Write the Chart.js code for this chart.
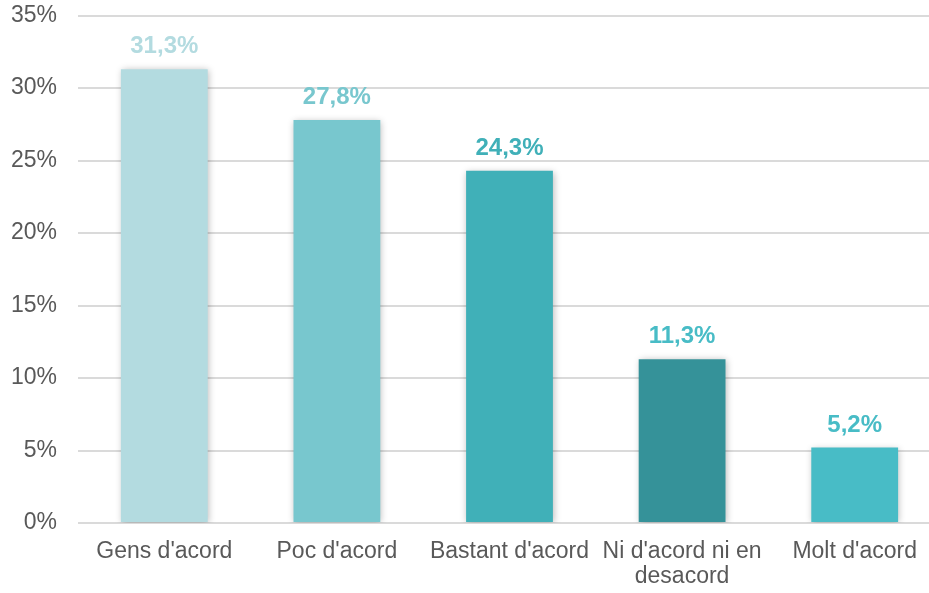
<!DOCTYPE html>
<html>
<head>
<meta charset="utf-8">
<script src="https://cdn.jsdelivr.net/npm/chart.js@4"></script>
<style>
html,body{margin:0;padding:0;background:#fff;overflow:hidden;}
#wrap{width:929px;height:593px;overflow:hidden;position:relative;}
#box{width:942px;height:593px;position:absolute;left:0;top:0;}
</style>
</head>
<body>
<div id="wrap"><div id="box"><canvas id="c"></canvas></div></div>
<script>
const categories = ["Gens d'acord", "Poc d'acord", "Bastant d'acord", ["Ni d'acord ni en", "desacord"], "Molt d'acord"];
const values = [31.3, 27.8, 24.3, 11.3, 5.2];
const valueLabels = ["31,3%", "27,8%", "24,3%", "11,3%", "5,2%"];
const barColors = ["#B3DBE0", "#78C7CE", "#40B0B8", "#359299", "#48BCC6"];
const labelColors = ["#B3DBE0", "#78C7CE", "#40B0B8", "#48BCC6", "#48BCC6"];
const yTicks = [0, 5, 10, 15, 20, 25, 30, 35];

const FONT = "'Liberation Sans', Arial, sans-serif";

const shadowPlugin = {
  id: 'shadow',
  beforeDatasetsDraw(chart) {
    const ctx = chart.ctx;
    ctx.save();
    ctx.shadowColor = 'rgba(0,0,0,0.28)';
    ctx.shadowBlur = 7;
    ctx.shadowOffsetX = 1;
    ctx.shadowOffsetY = 1;
  },
  afterDatasetsDraw(chart) {
    const ctx = chart.ctx;
    ctx.restore();
    const meta = chart.getDatasetMeta(0);
    ctx.save();
    ctx.font = "bold 24px " + FONT;
    ctx.textAlign = 'center';
    ctx.textBaseline = 'alphabetic';
    meta.data.forEach((bar, i) => {
      ctx.fillStyle = labelColors[i];
      ctx.fillText(valueLabels[i], bar.x, bar.y - 16);
    });
    ctx.restore();
  }
};

new Chart(document.getElementById('c'), {
  type: 'bar',
  data: {
    labels: categories,
    datasets: [{
      data: values,
      backgroundColor: barColors,
      borderWidth: 0,
      categoryPercentage: 1,
      barPercentage: 0.503
    }]
  },
  options: {
    responsive: true,
    maintainAspectRatio: false,
    animation: false,
    devicePixelRatio: 1,
    layout: { padding: { top: 15.5, right: 1, left: 0, bottom: 0 } },
    plugins: { legend: { display: false }, tooltip: { enabled: false } },
    scales: {
      x: {
        grid: { display: false, drawTicks: false },
        border: { display: false },
        ticks: {
          color: '#595959',
          font: { family: FONT, size: 23, lineHeight: 1.1 },
          padding: 16,
          maxRotation: 0,
          autoSkip: false
        },
        afterFit(s) { s.height = 70; s.paddingLeft = 0; s.paddingRight = 0; }
      },
      y: {
        min: 0,
        max: 35,
        afterBuildTicks(s) { s.ticks = yTicks.map(v => ({ value: v })); },
        grid: { color: '#dadada', lineWidth: 2, drawTicks: false },
        border: { display: false },
        ticks: {
          color: '#595959',
          font: { family: FONT, size: 23 },
          padding: 21,
          callback: v => v + '%'
        },
        afterFit(s) { s.width = 78; s.paddingTop = 0; s.paddingBottom = 0; }
      }
    }
  },
  plugins: [shadowPlugin]
});
</script>
</body>
</html>
